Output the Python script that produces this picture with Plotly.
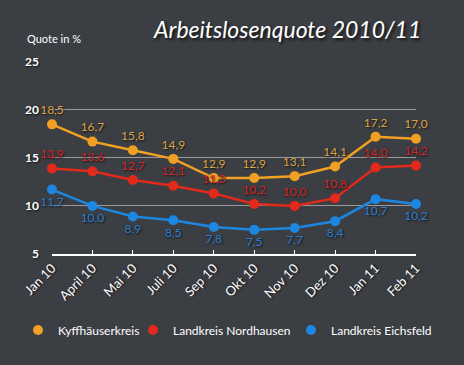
import plotly.graph_objects as go

months = ["Jan 10", "April 10", "Mai 10", "Juli 10", "Sep 10", "Okt 10", "Nov 10", "Dez 10", "Jan 11", "Feb 11"]
kyff = [18.5, 16.7, 15.8, 14.9, 12.9, 12.9, 13.1, 14.1, 17.2, 17.0]
nord = [13.9, 13.6, 12.7, 12.1, 11.3, 10.2, 10.0, 10.8, 14.0, 14.2]
eichs = [11.7, 10.0, 8.9, 8.5, 7.8, 7.5, 7.7, 8.4, 10.7, 10.2]
names = ["Kyffhäuserkreis", "Landkreis Nordhausen", "Landkreis Eichsfeld"]
y_ticks = [5, 10, 15, 20, 25]

W, H = 464, 365
BG = "#3b3e43"
line_cols = ["#f0a022", "#e12a1c", "#1c86e0"]
text_cols = ["#dba445", "#d8262a", "#2c7fcf"]
positions = ["top center", "top center", "bottom center"]
legend_ids = ["legend", "legend2", "legend3"]
legend_x = [18, 133, 291]

def fmt(v):
    return f"{v:.1f}".replace(".", ",")

fig = go.Figure()
for name, vals, lc, tc, pos in zip(names, [kyff, nord, eichs], line_cols, text_cols, positions):
    fig.add_trace(go.Scatter(
        x=list(range(len(months))), y=vals, mode="lines+markers+text",
        text=[fmt(v) for v in vals], textposition=pos,
        textfont=dict(family="Lato", size=12, color=tc, shadow="1px 1px 2px #111"),
        line=dict(color=lc, width=2.5), marker=dict(color=lc, size=10),
        cliponaxis=False, showlegend=False, name=name))
for name, lc, lid in zip(names, line_cols, legend_ids):
    fig.add_trace(go.Scatter(x=[None], y=[None], mode="markers", name=name,
                             legend=lid, marker=dict(color=lc, size=10)))

leg_common = dict(orientation="h", xref="container", yref="container",
                  yanchor="middle", xanchor="left",
                  font=dict(family="Lato", size=12, color="white"),
                  bgcolor="rgba(0,0,0,0)", itemwidth=30)

fig.update_layout(
    width=W, height=H,
    paper_bgcolor=BG, plot_bgcolor=BG,
    margin=dict(l=52, r=48, t=62, b=103),
    xaxis=dict(range=[0, 9], tickvals=list(range(len(months))), ticktext=months,
               tickangle=-45, showgrid=False, zeroline=False,
               showline=True, linecolor="white", linewidth=1.5,
               ticks="inside", tickcolor="white", ticklen=4,
               tickfont=dict(family="Lato", size=13, color="white", shadow="1px 1px 2px #111")),
    yaxis=dict(range=[5, 25], tickvals=y_ticks, showgrid=True,
               gridcolor="#9a9a9a", gridwidth=1, zeroline=False, showline=False,
               ticks="", ticklabelstandoff=12,
               tickfont=dict(family="Lato", size=12, color="white", weight="bold",
                             shadow="1px 1px 2px #111")),
    annotations=[
        dict(text="<i>Arbeitslosenquote 2010/11</i>", xref="paper", yref="paper",
             x=(287-52)/364, y=1 + (62-28)/200, xanchor="center", yanchor="middle",
             showarrow=False,
             font=dict(family="Lato", size=23, color="white", shadow="2px 2px 3px #111")),
        dict(text="Quote in %", xref="paper", yref="paper",
             x=(25-52)/364, y=1 + (62-37)/200, xanchor="left", yanchor="middle",
             showarrow=False, font=dict(family="Lato", size=11, color="white")),
    ],
)
for lid, lx in zip(legend_ids, legend_x):
    fig.update_layout({lid: dict(leg_common, x=lx / W, y=1 - 330 / H)})

fig.write_html("out.html", config={"displayModeBar": False},
               post_script="document.body.style.margin='0';")
